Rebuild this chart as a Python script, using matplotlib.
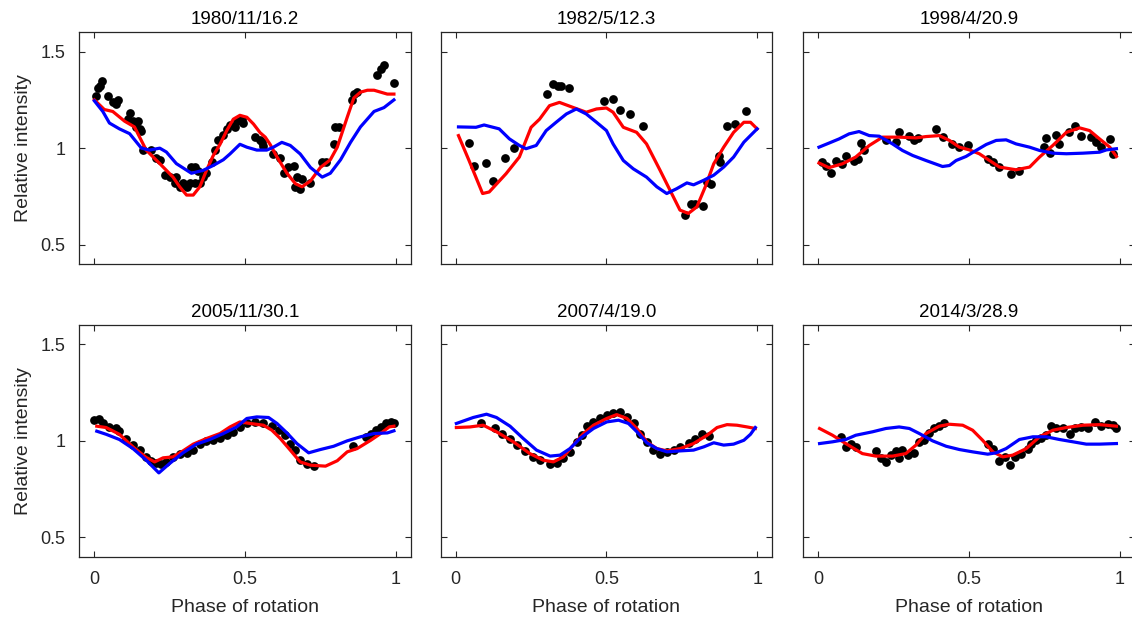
import matplotlib
matplotlib.use('Agg')
from matplotlib import pyplot as plt

plt.rcParams['font.family'] = ['Liberation Sans', 'DejaVu Sans']

titles = ['1980/11/16.2', '1982/5/12.3', '1998/4/20.9', '2005/11/30.1', '2007/4/19.0', '2014/3/28.9']

# ---- 1980/11/16.2 ----
obs1_x = [0.006, 0.011, 0.019, 0.026, 0.044, 0.061, 0.072, 0.078, 0.111, 0.117, 0.128, 0.139, 0.144, 0.15, 0.156,
          0.161, 0.189, 0.206, 0.217, 0.233, 0.25, 0.267, 0.272, 0.283, 0.294, 0.306, 0.317, 0.322, 0.333, 0.333,
          0.344, 0.35, 0.361, 0.372, 0.389, 0.4, 0.411, 0.428, 0.439, 0.45, 0.467, 0.472, 0.489, 0.494, 0.533,
          0.55, 0.556, 0.561, 0.594, 0.617, 0.628, 0.644, 0.661, 0.667, 0.672, 0.683, 0.689, 0.717, 0.756, 0.767,
          0.794, 0.8, 0.811, 0.856, 0.861, 0.872, 0.939, 0.95, 0.961, 0.994]
obs1_y = [1.27, 1.31, 1.32, 1.35, 1.27, 1.24, 1.23, 1.25, 1.15, 1.18, 1.14, 1.11, 1.14, 1.10, 1.09,
          0.99, 0.99, 0.95, 0.94, 0.86, 0.85, 0.82, 0.85, 0.80, 0.82, 0.80, 0.82, 0.90, 0.90, 0.82,
          0.88, 0.82, 0.85, 0.87, 0.93, 0.99, 1.04, 1.07, 1.10, 1.12, 1.11, 1.14, 1.15, 1.13, 1.06,
          1.04, 1.03, 1.01, 0.97, 0.95, 0.87, 0.90, 0.91, 0.80, 0.85, 0.79, 0.84, 0.82, 0.93, 0.93,
          1.02, 1.11, 1.11, 1.25, 1.28, 1.29, 1.38, 1.41, 1.43, 1.34]
red1_x = [0, 0.033, 0.061, 0.1, 0.133, 0.172, 0.217, 0.261, 0.283, 0.306, 0.328, 0.35, 0.372, 0.394, 0.417, 0.439,
          0.461, 0.483, 0.506, 0.528, 0.55, 0.567, 0.583, 0.606, 0.639, 0.667, 0.689, 0.717, 0.75, 0.783, 0.806,
          0.839, 0.861, 0.883, 0.906, 0.928, 0.95, 0.972, 0.994]
red1_y = [1.25, 1.20, 1.19, 1.14, 1.11, 0.99, 0.92, 0.85, 0.80, 0.757, 0.757, 0.80, 0.885, 0.96, 1.02, 1.09,
          1.15, 1.17, 1.16, 1.125, 1.08, 1.057, 1.02, 0.954, 0.87, 0.816, 0.80, 0.83, 0.90, 0.94, 1.005,
          1.16, 1.26, 1.29, 1.30, 1.30, 1.29, 1.28, 1.28]
blue1_x = [0, 0.028, 0.05, 0.083, 0.117, 0.156, 0.183, 0.217, 0.239, 0.272, 0.322, 0.361, 0.394, 0.428, 0.45,
           0.483, 0.506, 0.539, 0.572, 0.594, 0.622, 0.65, 0.683, 0.717, 0.756, 0.783, 0.817, 0.85, 0.883, 0.928,
           0.961, 0.994]
blue1_y = [1.245, 1.19, 1.13, 1.10, 1.075, 1.0, 0.99, 1.0, 0.98, 0.92, 0.87, 0.885, 0.91, 0.94, 0.97,
           1.02, 1.005, 0.99, 0.99, 1.005, 1.03, 1.014, 0.97, 0.90, 0.85, 0.87, 0.94, 1.03, 1.11, 1.19,
           1.21, 1.25]

# ---- 1982/5/12.3 ----
obs2_x = [0.044, 0.061, 0.1, 0.122, 0.163, 0.194, 0.302, 0.324, 0.339, 0.35, 0.376, 0.492, 0.521, 0.544, 0.578,
          0.62, 0.759, 0.78, 0.794, 0.819, 0.833, 0.847, 0.872, 0.878, 0.9, 0.928, 0.963]
obs2_y = [1.026, 0.91, 0.923, 0.83, 0.95, 1.0, 1.28, 1.33, 1.32, 1.32, 1.31, 1.244, 1.254, 1.20, 1.175,
          1.115, 0.653, 0.71, 0.71, 0.70, 0.825, 0.816, 0.96, 0.926, 1.113, 1.125, 1.19]
red2_x = [0.009, 0.044, 0.089, 0.111, 0.167, 0.211, 0.25, 0.278, 0.311, 0.344, 0.389, 0.433, 0.467, 0.5, 0.522,
          0.556, 0.6, 0.633, 0.678, 0.711, 0.744, 0.772, 0.8, 0.828, 0.856, 0.889, 0.922, 0.956, 0.978, 1.0]
red2_y = [1.065, 0.936, 0.765, 0.773, 0.868, 0.954, 1.108, 1.15, 1.22, 1.237, 1.211, 1.186, 1.203, 1.208, 1.186,
          1.108, 1.082, 1.022, 0.885, 0.782, 0.679, 0.662, 0.696, 0.80, 0.919, 1.005, 1.082, 1.134, 1.134, 1.10]
blue2_x = [0.009, 0.067, 0.094, 0.144, 0.178, 0.211, 0.233, 0.267, 0.3, 0.333, 0.367, 0.4, 0.433, 0.467, 0.5,
           0.522, 0.556, 0.589, 0.633, 0.667, 0.7, 0.733, 0.767, 0.789, 0.822, 0.856, 0.889, 0.922, 0.956, 1.0]
blue2_y = [1.11, 1.108, 1.12, 1.10, 1.048, 1.014, 0.997, 1.014, 1.091, 1.134, 1.177, 1.203, 1.177, 1.134, 1.091,
           1.022, 0.936, 0.893, 0.85, 0.80, 0.765, 0.79, 0.82, 0.81, 0.833, 0.86, 0.902, 0.954, 1.031, 1.10]

# ---- 1998/4/20.9 ----
obs3_x = [0.011, 0.024, 0.041, 0.06, 0.078, 0.091, 0.119, 0.133, 0.14, 0.151, 0.224, 0.257, 0.268, 0.302, 0.318,
          0.329, 0.39, 0.412, 0.443, 0.468, 0.496, 0.562, 0.579, 0.601, 0.64, 0.667, 0.75, 0.756, 0.767, 0.789,
          0.8, 0.831, 0.85, 0.872, 0.906, 0.922, 0.939, 0.967, 0.978]
obs3_y = [0.928, 0.91, 0.87, 0.933, 0.916, 0.957, 0.936, 0.945, 1.026, 0.991, 1.04, 1.034, 1.082, 1.065, 1.04,
          1.053, 1.098, 1.06, 1.019, 1.005, 1.014, 0.945, 0.928, 0.902, 0.864, 0.881, 1.005, 1.053, 0.974, 1.07,
          1.022, 1.082, 1.117, 1.065, 1.057, 1.031, 1.005, 1.048, 0.971]
red3_x = [0.002, 0.035, 0.08, 0.124, 0.169, 0.213, 0.268, 0.324, 0.357, 0.401, 0.435, 0.468, 0.501, 0.534, 0.568,
          0.601, 0.656, 0.701, 0.734, 0.778, 0.823, 0.867, 0.9, 0.933, 0.967, 0.989]
red3_y = [0.923, 0.899, 0.919, 0.954, 1.014, 1.057, 1.057, 1.053, 1.06, 1.065, 1.04, 1.005, 0.991, 0.971, 0.936,
          0.902, 0.888, 0.902, 0.954, 1.014, 1.082, 1.105, 1.091, 1.048, 1.005, 0.957]
blue3_x = [0.002, 0.035, 0.069, 0.102, 0.135, 0.169, 0.202, 0.246, 0.279, 0.313, 0.357, 0.412, 0.435, 0.457, 0.49,
           0.523, 0.557, 0.59, 0.623, 0.656, 0.701, 0.734, 0.778, 0.823, 0.878, 0.933, 0.956, 0.989]
blue3_y = [1.005, 1.026, 1.048, 1.074, 1.086, 1.065, 1.062, 1.022, 0.988, 0.962, 0.936, 0.905, 0.91, 0.936, 0.957,
           0.988, 1.019, 1.04, 1.043, 1.022, 1.005, 0.988, 0.974, 0.971, 0.974, 0.979, 0.991, 0.997]

# ---- 2005/11/30.1 ----
obs4_x = [0, 0.014, 0.028, 0.05, 0.072, 0.083, 0.106, 0.128, 0.15, 0.172, 0.189, 0.206, 0.222, 0.239, 0.261,
          0.283, 0.306, 0.328, 0.35, 0.372, 0.394, 0.417, 0.439, 0.461, 0.483, 0.506, 0.533, 0.561, 0.589, 0.611,
          0.633, 0.65, 0.667, 0.683, 0.706, 0.728, 0.859, 0.9, 0.917, 0.933, 0.95, 0.967, 0.983, 0.994]
obs4_y = [1.107, 1.112, 1.09, 1.072, 1.064, 1.052, 1.012, 0.978, 0.952, 0.917, 0.897, 0.886, 0.879, 0.891, 0.914,
          0.934, 0.938, 0.952, 0.986, 1.0, 1.003, 1.017, 1.029, 1.047, 1.072, 1.09, 1.098, 1.09, 1.076, 1.055,
          1.029, 0.983, 0.952, 0.9, 0.879, 0.869, 0.972, 1.021, 1.038, 1.055, 1.072, 1.093, 1.098, 1.093]
red4_x = [0.008, 0.039, 0.083, 0.128, 0.172, 0.2, 0.228, 0.261, 0.294, 0.328, 0.372, 0.417, 0.45, 0.483, 0.517,
          0.561, 0.589, 0.617, 0.65, 0.683, 0.717, 0.767, 0.806, 0.839, 0.872, 0.917, 0.95, 0.978, 0.994]
red4_y = [1.076, 1.069, 1.034, 0.969, 0.914, 0.891, 0.912, 0.917, 0.948, 0.983, 1.012, 1.038, 1.072, 1.098, 1.09,
          1.081, 1.055, 1.012, 0.952, 0.891, 0.874, 0.869, 0.897, 0.943, 0.96, 1.003, 1.038, 1.072, 1.076]
blue4_x = [0.008, 0.039, 0.083, 0.128, 0.172, 0.214, 0.25, 0.294, 0.339, 0.383, 0.428, 0.472, 0.506, 0.539, 0.578,
           0.606, 0.639, 0.672, 0.711, 0.75, 0.794, 0.839, 0.883, 0.928, 0.972, 0.994]
blue4_y = [1.05, 1.034, 1.007, 0.96, 0.9, 0.834, 0.883, 0.938, 0.983, 1.007, 1.038, 1.072, 1.116, 1.124, 1.121,
           1.09, 1.041, 0.986, 0.938, 0.955, 0.972, 1.0, 1.021, 1.038, 1.041, 1.052]

# ---- 2007/4/19.0 ----
obs5_x = [0.085, 0.13, 0.152, 0.18, 0.202, 0.229, 0.257, 0.279, 0.313, 0.335, 0.357, 0.379, 0.401, 0.418, 0.435,
          0.457, 0.479, 0.501, 0.523, 0.545, 0.568, 0.59, 0.612, 0.634, 0.656, 0.678, 0.701, 0.723, 0.745, 0.773,
          0.795, 0.817, 0.839]
obs5_y = [1.09, 1.064, 1.038, 1.007, 0.978, 0.948, 0.914, 0.9, 0.879, 0.883, 0.909, 0.943, 0.995, 1.029, 1.076,
          1.098, 1.116, 1.133, 1.145, 1.15, 1.124, 1.09, 1.038, 0.995, 0.952, 0.934, 0.943, 0.955, 0.966, 0.99,
          1.007, 1.034, 1.024]
red5_x = [0.002, 0.047, 0.091, 0.135, 0.191, 0.246, 0.29, 0.324, 0.357, 0.39, 0.424, 0.457, 0.501, 0.534, 0.568,
          0.601, 0.634, 0.667, 0.701, 0.745, 0.789, 0.834, 0.867, 0.9, 0.933, 0.967, 0.994]
red5_y = [1.069, 1.072, 1.081, 1.047, 0.995, 0.934, 0.9, 0.891, 0.917, 0.978, 1.038, 1.081, 1.116, 1.136, 1.116,
          1.064, 0.995, 0.96, 0.948, 0.96, 0.986, 1.029, 1.069, 1.084, 1.081, 1.072, 1.064]
blue5_x = [0.002, 0.058, 0.102, 0.135, 0.18, 0.224, 0.268, 0.313, 0.346, 0.379, 0.412, 0.457, 0.501, 0.54, 0.573,
           0.601, 0.634, 0.667, 0.701, 0.745, 0.789, 0.823, 0.856, 0.889, 0.922, 0.956, 0.978, 0.994]
blue5_y = [1.09, 1.121, 1.138, 1.121, 1.076, 1.012, 0.952, 0.921, 0.926, 0.96, 1.012, 1.064, 1.098, 1.107, 1.09,
           1.047, 0.99, 0.96, 0.943, 0.948, 0.952, 0.969, 0.99, 0.978, 0.983, 1.003, 1.034, 1.069]

# ---- 2014/3/28.9 ----
obs6_x = [0.074, 0.091, 0.108, 0.126, 0.191, 0.208, 0.226, 0.24, 0.257, 0.268, 0.279, 0.296, 0.318, 0.333, 0.351,
          0.368, 0.385, 0.401, 0.418, 0.562, 0.579, 0.601, 0.618, 0.636, 0.654, 0.673, 0.695, 0.706, 0.723, 0.739,
          0.756, 0.773, 0.79, 0.812, 0.834, 0.85, 0.872, 0.894, 0.917, 0.939, 0.961, 0.978, 0.989]
obs6_y = [1.021, 0.969, 0.983, 0.966, 0.948, 0.909, 0.891, 0.926, 0.948, 0.912, 0.955, 0.926, 0.938, 0.995, 1.003,
          1.041, 1.064, 1.076, 1.09, 0.983, 0.96, 0.897, 0.917, 0.874, 0.914, 0.934, 0.96, 0.986, 1.003, 1.017,
          1.029, 1.076, 1.069, 1.069, 1.038, 1.064, 1.072, 1.064, 1.098, 1.076, 1.086, 1.081, 1.067]
red6_x = [0.004, 0.047, 0.091, 0.146, 0.191, 0.246, 0.29, 0.324, 0.357, 0.401, 0.435, 0.479, 0.512, 0.545, 0.579,
          0.612, 0.645, 0.69, 0.734, 0.778, 0.823, 0.878, 0.933, 0.989]
red6_y = [1.064, 1.029, 0.986, 0.934, 0.921, 0.921, 0.934, 0.978, 1.038, 1.076, 1.086, 1.081, 1.055, 1.003, 0.943,
          0.917, 0.926, 0.96, 1.021, 1.055, 1.069, 1.081, 1.084, 1.076]
blue6_x = [0.004, 0.047, 0.091, 0.124, 0.18, 0.224, 0.268, 0.302, 0.335, 0.379, 0.424, 0.468, 0.512, 0.562, 0.59,
           0.623, 0.667, 0.712, 0.756, 0.8, 0.845, 0.889, 0.933, 0.989]
blue6_y = [0.986, 0.995, 1.007, 1.029, 1.047, 1.064, 1.072, 1.064, 1.038, 1.0, 0.972, 0.955, 0.943, 0.931, 0.938,
           0.96, 1.007, 1.021, 1.021, 1.007, 0.995, 0.983, 0.983, 0.986]

panels = [
    (obs1_x, obs1_y, red1_x, red1_y, blue1_x, blue1_y),
    (obs2_x, obs2_y, red2_x, red2_y, blue2_x, blue2_y),
    (obs3_x, obs3_y, red3_x, red3_y, blue3_x, blue3_y),
    (obs4_x, obs4_y, red4_x, red4_y, blue4_x, blue4_y),
    (obs5_x, obs5_y, red5_x, red5_y, blue5_x, blue5_y),
    (obs6_x, obs6_y, red6_x, red6_y, blue6_x, blue6_y),
]

W, H = 1132, 617
fig = plt.figure(figsize=(W / 100, H / 100), dpi=100)
frame = '#262626'
lefts = [79.3, 440.7, 803.3]
bottoms = [264.0, 556.7]
aw, ah = 331.5, 231.7

for i, (ox, oy, rx, ry, bx, by) in enumerate(panels):
    row, col = divmod(i, 3)
    ax = fig.add_axes([lefts[col] / W, (H - bottoms[row]) / H, aw / W, ah / H])
    ax.plot(ox, oy, 'o', color='k', ms=6.3, mec='none', zorder=2)
    ax.plot(rx, ry, '-', color=(1, 0, 0), lw=2.3, zorder=3)
    ax.plot(bx, by, '-', color=(0, 0, 1), lw=2.3, zorder=4)
    ax.set_xlim(-0.05, 1.05)
    ax.set_ylim(0.4, 1.6)
    ax.set_xticks([0, 0.5, 1])
    ax.set_yticks([0.5, 1, 1.5])
    ax.set_xticklabels(['0', '0.5', '1'] if row == 1 else [])
    ax.set_yticklabels(['0.5', '1', '1.5'] if col == 0 else [])
    ax.tick_params(direction='in', length=4, width=0.8, color=frame, labelsize=13,
                   top=True, right=True, labelcolor='#262626')
    ax.tick_params(axis='x', pad=10)
    ax.tick_params(axis='y', pad=10)
    for s in ax.spines.values():
        s.set_color(frame)
        s.set_linewidth(0.9)
    ax.set_title(titles[i], fontsize=13.5, pad=6)
    if row == 1:
        ax.set_xlabel('Phase of rotation', fontsize=14, color='#262626', labelpad=8)
    if col == 0:
        ax.set_ylabel('Relative intensity', fontsize=14, color='#262626', labelpad=6)

fig.savefig('out.png', dpi=100)
